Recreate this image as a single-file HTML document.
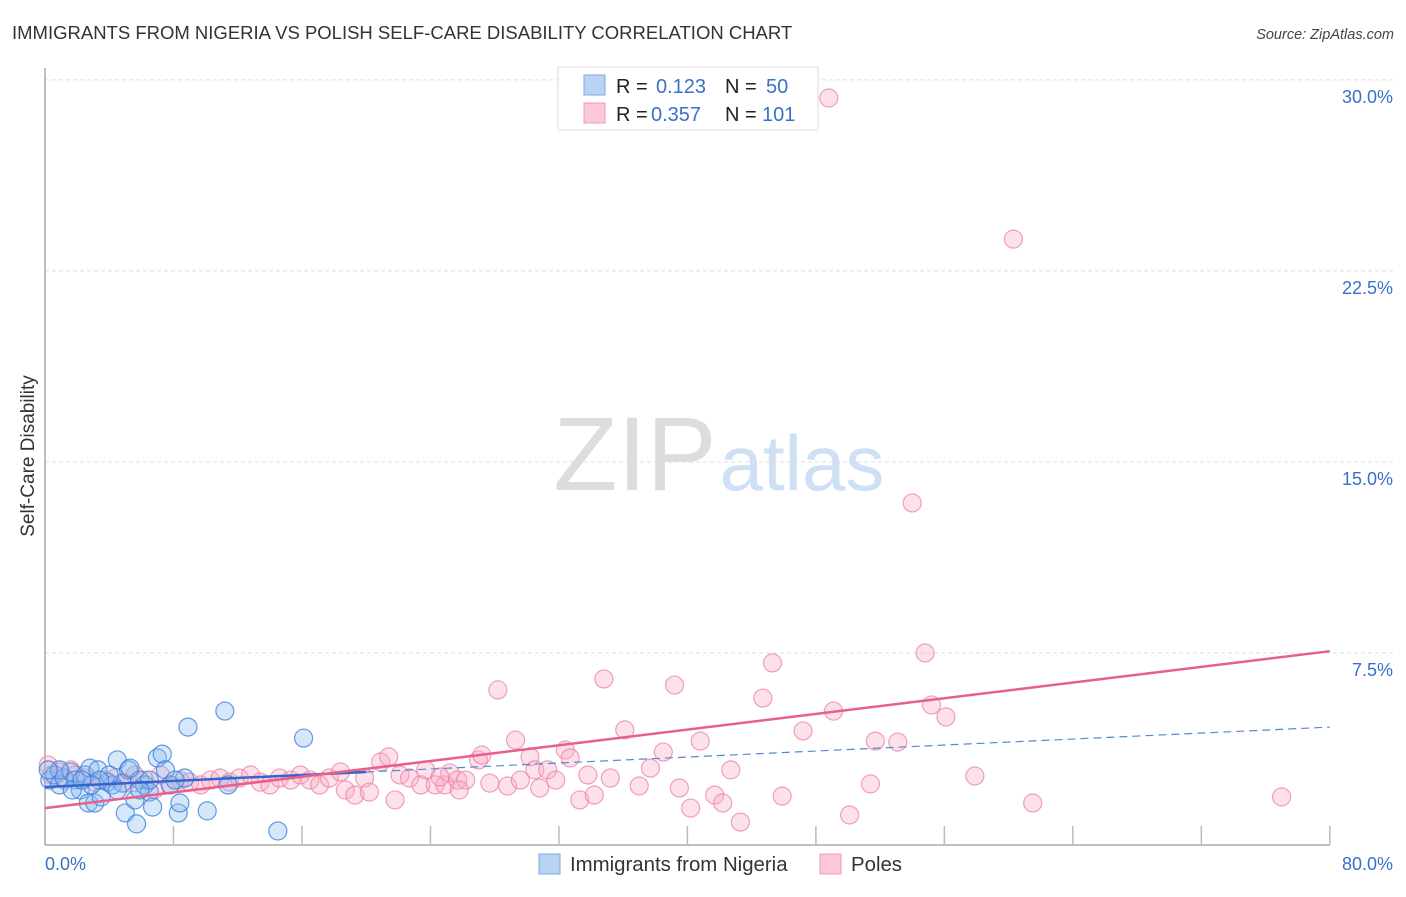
<!DOCTYPE html>
<html><head><meta charset="utf-8"><style>
body{margin:0;background:#fff;font-family:"Liberation Sans",sans-serif;}
svg text{font-family:"Liberation Sans",sans-serif;}
</style></head><body>
<svg id="chart" width="1406" height="892" xmlns="http://www.w3.org/2000/svg">
<text x="12" y="39" font-size="18.5" fill="#333">IMMIGRANTS FROM NIGERIA VS POLISH SELF-CARE DISABILITY CORRELATION CHART</text>
<text x="1394" y="39" font-size="14.5" font-style="italic" fill="#444" text-anchor="end">Source: ZipAtlas.com</text>
<text transform="translate(34,456) rotate(-90)" font-size="19" fill="#333" text-anchor="middle">Self-Care Disability</text>
<g><text x="635" y="490" font-family="Liberation Serif" font-size="105" fill="#ddd" text-anchor="middle">ZIP</text><text x="802" y="490" font-size="78" fill="#cfe0f5" text-anchor="middle">atlas</text></g>
<g id="grid"></g><g id="axes"></g><g id="pts"></g><g id="lines"></g>
<g>
<rect x="558" y="67" width="260" height="63" fill="#fff" stroke="#ddd"/>
<rect x="584" y="75" width="21" height="20" fill="#b9d3f5" stroke="#7aa8e6"/>
<rect x="584" y="103" width="21" height="20" fill="#fbc9d7" stroke="#f09ab2"/>
<text x="616" y="93" font-size="20" fill="#222">R =</text>
<text x="656" y="93" font-size="20" fill="#3a70c9">0.123</text>
<text x="725" y="93" font-size="20" fill="#222">N =</text>
<text x="766" y="93" font-size="20" fill="#3a70c9">50</text>
<text x="616" y="121" font-size="20" fill="#222">R =</text>
<text x="651" y="121" font-size="20" fill="#3a70c9">0.357</text>
<text x="725" y="121" font-size="20" fill="#222">N =</text>
<text x="762" y="121" font-size="20" fill="#3a70c9">101</text>
</g>
<g>
<rect x="539" y="854" width="21" height="20" fill="#b9d3f5" stroke="#7aa8e6"/>
<text x="570" y="871" font-size="20.4" fill="#333">Immigrants from Nigeria</text>
<rect x="820" y="854" width="21" height="20" fill="#fbc9d7" stroke="#f09ab2"/>
<text x="851" y="871" font-size="20.4" fill="#333">Poles</text>
</g>
</svg>
<script>
const yTicks=[7.5,15,22.5,30];
const yTickLabels=["7.5%","15.0%","22.5%","30.0%"];
const xEndLabels=["0.0%","80.0%"];
const blueX=[0.3,0.6,0.9,1.2,1.6,1.9,2.2,2.5,2.8,2.7,3.1,3.3,3.5,3.9,4.2,4.5,4.8,5.0,5.2,5.3,5.6,5.7,5.9,6.2,6.5,6.7,7.0,7.3,7.5,7.8,8.3,8.4,8.7,8.9,10.1,11.2,11.4,14.5,16.1,6.5,0.9,1.7,4.0,3.4,8.1,5.9,4.5,2.9,0.2,2.3];
const blueY=[2.51,2.71,2.32,2.59,2.83,2.51,2.12,2.71,2.98,1.61,1.61,2.91,1.85,2.43,2.32,3.30,2.39,1.22,2.91,2.98,1.73,0.79,2.51,2.32,2.04,1.45,3.38,3.53,2.91,2.32,1.22,1.61,2.59,4.59,1.30,5.22,2.32,0.51,4.16,2.51,2.91,2.12,2.71,2.51,2.51,2.12,2.12,2.32,2.91,2.51];
const pinkX=[0.2,0.4,0.9,1.2,1.6,1.9,2.5,3.1,3.7,4.4,5.0,5.6,6.2,6.8,7.2,7.8,8.4,9.0,9.7,10.3,10.9,11.5,12.1,12.8,13.4,14.0,14.6,15.3,15.9,16.5,17.1,17.7,18.4,18.7,19.3,19.9,20.2,20.9,21.4,21.8,22.1,22.7,23.4,23.7,24.3,24.9,25.2,25.7,26.2,27.0,27.2,27.7,28.2,28.8,29.3,29.6,30.2,30.5,30.8,31.3,31.8,32.4,32.7,33.3,33.8,34.2,34.8,35.2,36.1,37.0,37.7,38.5,39.2,39.5,40.2,40.8,41.7,42.2,42.7,43.3,44.7,45.3,45.9,47.2,48.8,49.1,50.1,51.4,51.7,53.1,54.0,54.8,55.2,56.1,57.9,60.3,61.5,77.0,24.6,25.8];
const pinkY=[3.10,2.71,2.83,2.51,2.91,2.71,2.59,2.43,2.51,2.59,2.39,2.71,2.51,2.12,2.71,2.32,2.51,2.43,2.32,2.51,2.59,2.43,2.59,2.71,2.43,2.32,2.59,2.51,2.71,2.51,2.32,2.59,2.83,2.12,1.92,2.59,2.04,3.22,3.42,1.73,2.71,2.59,2.32,2.91,2.32,2.32,2.79,2.51,2.51,3.30,3.49,2.39,6.05,2.28,4.08,2.51,3.42,2.91,2.20,2.91,2.51,3.69,3.38,1.73,2.71,1.92,6.48,2.59,4.48,2.28,2.98,3.61,6.24,2.20,1.41,4.04,1.92,1.61,2.91,0.86,5.73,7.11,1.88,4.44,29.29,5.22,1.14,2.36,4.04,4.00,13.39,7.50,5.46,4.99,2.67,23.75,1.61,1.85,2.63,2.12];
const blueTrend=[2.24,4.59];
const pinkTrend=[1.41,7.57];
const NS="http://www.w3.org/2000/svg";
const X=v=>45+v*16.06, Y=v=>844-v*25.47;
function mk(tag,attrs,parent){const e=document.createElementNS(NS,tag);for(const k in attrs)e.setAttribute(k,attrs[k]);document.getElementById(parent).appendChild(e);return e;}
yTicks.forEach((t,i)=>{
 const g=mk('line',{x1:45,x2:1393,y1:Y(t),y2:Y(t),stroke:'#ddd','stroke-dasharray':'4,3'},'grid');
 
 
 const l=mk('text',{x:1393,y:Y(t)+23,'font-size':18,fill:'#3a70c9','text-anchor':'end'},'axes');
 l.textContent=yTickLabels[i];
 
 
});
let ax=mk('line',{x1:45,x2:45,y1:68,y2:845,stroke:'#aaa','stroke-width':1.5},'axes');


ax=mk('line',{x1:45,x2:1330,y1:845,y2:845,stroke:'#aaa','stroke-width':1.5},'axes');


for(let k=1;k<=10;k++){const v=k*8;const t=mk('line',{x1:X(v),x2:X(v),y1:826,y2:845,stroke:'#bbb','stroke-width':1.5},'axes');
 
 }
[[0,'start',45],[80,'end',1393]].forEach((d,i)=>{const t=mk('text',{x:d[2],y:870,'font-size':18,fill:'#3a70c9','text-anchor':d[1]},'axes');t.textContent=xEndLabels[i];
 
 });
pinkX.forEach((v,i)=>{const c=mk('circle',{cx:X(v),cy:Y(pinkY[i]),r:9,fill:'rgba(248,170,195,0.35)',stroke:'rgba(235,130,165,0.75)','stroke-width':1.2},'pts');
 
 });
blueX.forEach((v,i)=>{const c=mk('circle',{cx:X(v),cy:Y(blueY[i]),r:9,fill:'rgba(140,185,240,0.35)',stroke:'rgba(60,130,220,0.8)','stroke-width':1.2},'pts');
 
 });
const bAt=v=>blueTrend[0]+(blueTrend[1]-blueTrend[0])*v/80;
let ln=mk('line',{x1:X(0),y1:Y(bAt(0)),x2:X(20),y2:Y(bAt(20)),stroke:'#3366cc','stroke-width':2.5},'lines');


ln=mk('line',{x1:X(20),y1:Y(bAt(20)),x2:X(80),y2:Y(bAt(80)),stroke:'#5588d6','stroke-width':1.2,'stroke-dasharray':'8,5'},'lines');


ln=mk('line',{x1:X(0),y1:Y(pinkTrend[0]),x2:X(80),y2:Y(pinkTrend[1]),stroke:'#e8608a','stroke-width':2.5},'lines');


</script>
</body></html>
